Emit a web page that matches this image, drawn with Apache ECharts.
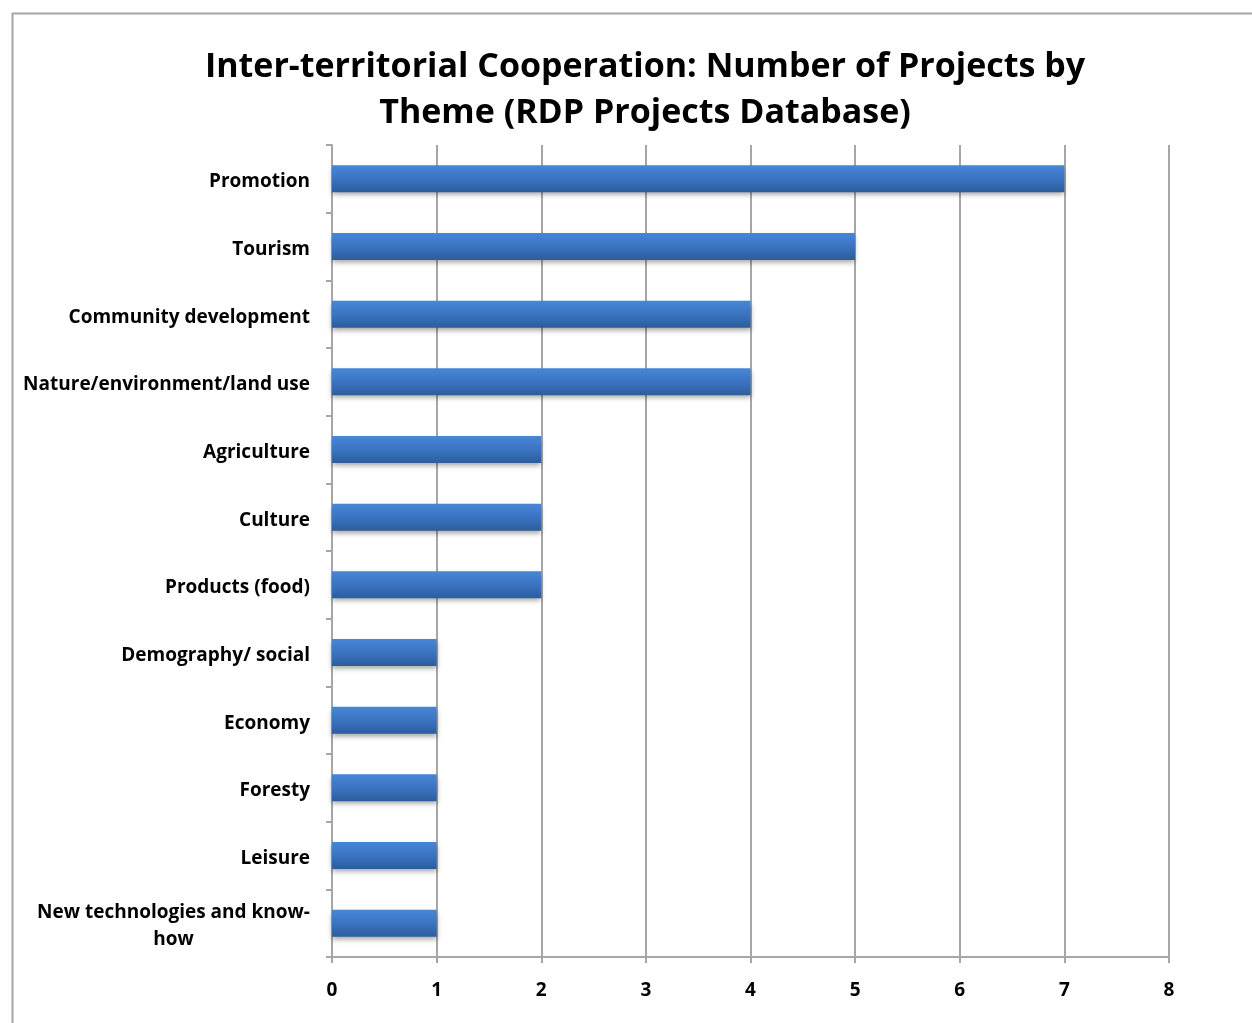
<!DOCTYPE html>
<html>
<head>
<meta charset="utf-8">
<script src="https://cdn.jsdelivr.net/npm/echarts@6/dist/echarts.min.js"></script>
<style>
  html, body { margin: 0; padding: 0; background: #fff; }
  #chart { width: 1252px; height: 1023px; }
</style>
</head>
<body>
<div id="chart"></div>
<script>
// Themes and project counts, top to bottom
const themes = [
  'Promotion',
  'Tourism',
  'Community development',
  'Nature/environment/land use',
  'Agriculture',
  'Culture',
  'Products (food)',
  'Demography/ social',
  'Economy',
  'Foresty',
  'Leisure',
  'New technologies and know-\nhow'
];
const projectCounts = [7, 5, 4, 4, 2, 2, 2, 1, 1, 1, 1, 1];
const titleLines = [
  'Inter-territorial Cooperation: Number of Projects by',
  'Theme (RDP Projects Database)'
];
const xTicks = [0, 1, 2, 3, 4, 5, 6, 7, 8];

const FONT = '"Open Sans", Lato, sans-serif';
const LABEL_SIZE = 19;
const TITLE_SIZE = 34;

// width of the widest line, so wrapped labels can be centred line by line
function textWidth(str, size) {
  const ctx = document.createElement('canvas').getContext('2d');
  ctx.font = 'bold ' + size + 'px ' + FONT;
  return Math.ceil(ctx.measureText(str).width);
}

const chart = echarts.init(document.getElementById('chart'));

chart.setOption({
  backgroundColor: '#ffffff',
  animation: false,
  graphic: [
    {
      type: 'rect',
      shape: { x: 12.5, y: 13.5, width: 1400, height: 1200 },
      style: { fill: 'none', stroke: '#a6a6a6', lineWidth: 2 },
      silent: true
    },
    {
      type: 'text',
      x: 645, y: 67,
      style: {
        text: titleLines[0],
        font: 'bold ' + TITLE_SIZE + 'px ' + FONT,
        fill: '#000',
        align: 'center',
        verticalAlign: 'middle'
      }
    },
    {
      type: 'text',
      x: 645, y: 113,
      style: {
        text: titleLines[1],
        font: 'bold ' + TITLE_SIZE + 'px ' + FONT,
        fill: '#000',
        align: 'center',
        verticalAlign: 'middle'
      }
    }
  ],
  grid: { left: 332, right: 83, top: 145, bottom: 66, containLabel: false },
  xAxis: {
    type: 'value',
    min: 0,
    max: 8,
    interval: 1,
    axisLine: { show: true, lineStyle: { color: '#a6a6a6', width: 2 } },
    axisTick: { show: true, length: 6, lineStyle: { color: '#a6a6a6', width: 2 } },
    splitLine: { show: true, lineStyle: { color: '#a6a6a6', width: 2 } },
    axisLabel: {
      margin: 24,
      color: '#000',
      fontFamily: FONT,
      fontWeight: 'bold',
      fontSize: LABEL_SIZE,
      formatter: v => String(xTicks[v] ?? v)
    }
  },
  yAxis: {
    type: 'category',
    inverse: true,
    data: themes,
    axisLine: { show: true, lineStyle: { color: '#a6a6a6', width: 2 } },
    axisTick: { show: true, length: 6, alignWithLabel: false, lineStyle: { color: '#a6a6a6', width: 2 } },
    splitLine: { show: false },
    axisLabel: {
      margin: 22,
      padding: [6, 0, 0, 0],
      color: '#000',
      fontFamily: FONT,
      fontWeight: 'bold',
      fontSize: LABEL_SIZE,
      lineHeight: 27,
      formatter: v => {
        if (v.indexOf('\n') < 0) return v;
        const lines = v.split('\n');
        const w = Math.max(...lines.map(s => textWidth(s, LABEL_SIZE)));
        return lines.map(s => '{c' + w + '|' + s + '}').join('\n');
      },
      rich: (() => {
        const lines = themes[themes.length - 1].split('\n');
        const w = Math.max(...lines.map(s => textWidth(s, LABEL_SIZE)));
        const r = {};
        r['c' + w] = {
          width: w,
          align: 'center',
          fontFamily: FONT,
          fontWeight: 'bold',
          fontSize: LABEL_SIZE,
          lineHeight: 27,
          color: '#000'
        };
        return r;
      })()
    }
  },
  series: [{
    type: 'bar',
    data: projectCounts,
    barWidth: '40%',
    itemStyle: {
      color: new echarts.graphic.LinearGradient(0, 0, 0, 1, [
        { offset: 0, color: '#4886d6' },
        { offset: 0.5, color: '#3a74c2' },
        { offset: 1, color: '#2c5d9c' }
      ]),
      shadowColor: 'rgba(0,0,0,0.35)',
      shadowBlur: 5,
      shadowOffsetY: 3
    }
  }]
});
</script>
</body>
</html>
